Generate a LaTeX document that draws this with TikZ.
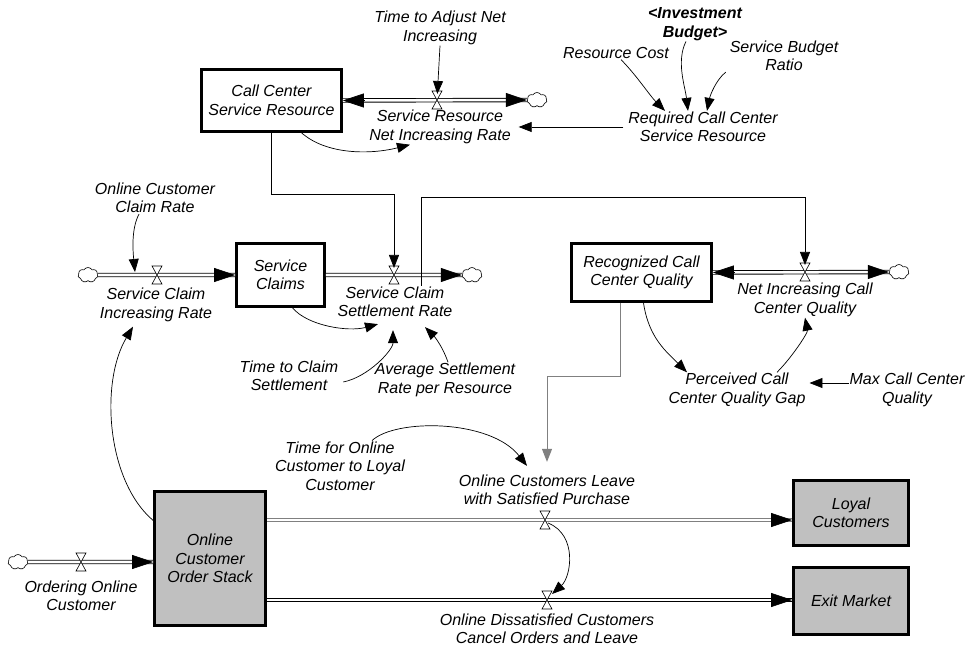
\documentclass[tikz,border=0pt]{standalone}
\usepackage{fontspec}
\setmainfont{Liberation Sans}
\usetikzlibrary{arrows.meta,shapes.symbols,calc}
\definecolor{stockgray}{HTML}{C0C0C0}
\begin{document}
\begin{tikzpicture}[x=1pt,y=-1pt,
 txt/.style={font=\fontsize{16}{18.5}\selectfont\itshape, align=center, inner sep=1pt, outer sep=0pt},
 stock/.style={txt, draw, line width=2.6pt, outer sep=1.3pt},
 gstock/.style={stock, fill=stockgray},
 pipe/.style={draw=black, line width=0.9pt, double=white, double distance=2.6pt},
 gpipe/.style={pipe, draw=black!50},
 pipehead/.style={line width=0.6pt, -{Triangle[length=21pt,width=14pt]}},
 con/.style={line width=0.7pt, -{Triangle[length=13pt,width=10pt]}},
 gcon/.style={line width=1pt, draw=black!50, -{Triangle[length=13pt,width=10pt,fill=black!50]}},
 cloudn/.style={cloud, cloud puffs=7, cloud puff arc=120, cloud ignores aspect, draw, line width=0.6pt, fill=white, minimum width=20pt, minimum height=15pt, inner sep=0pt},
 valve/.pic={\draw[fill=white, line width=0.6pt] (-5,-9) -- (5,-9) -- (-5,9) -- (5,9) -- cycle;}
]
\useasboundingbox (0,0) rectangle (975,647);

% stocks
\node[stock, minimum width=140pt, minimum height=62pt] (ccsr) at (271.5,100.5) {Call Center\\Service Resource};
\node[stock, minimum width=88pt, minimum height=63pt] (sc) at (280.5,275) {Service\\Claims};
\node[stock, minimum width=140pt, minimum height=58pt] (rccq) at (641.5,272.5) {Recognized Call\\Center Quality};
\node[gstock, minimum width=111pt, minimum height=134pt] (ocos) at (210,558.5) {Online\\Customer\\Order Stack};
\node[gstock, minimum width=115pt, minimum height=65pt] (lc) at (851,513) {Loyal\\Customers};
\node[gstock, minimum width=115pt, minimum height=67pt] (ex) at (851,601) {Exit Market};

% labels
\node[txt] (tadj) at (440,28) {Time to Adjust Net\\Increasing};
\node[txt] (srnir) at (440,127) {Service Resource\\Net Increasing Rate};
\node[txt, font=\fontsize{16}{18.5}\selectfont\itshape\bfseries] (inv) at (695,24) {<Investment\\Budget>};
\node[txt] (rc) at (616,53) {Resource Cost};
\node[txt] (sbr) at (784,56) {Service Budget\\Ratio};
\node[txt] (rccsr) at (703,127) {Required Call Center\\Service Resource};
\node[txt] (occr) at (155,198) {Online Customer\\Claim Rate};
\node[txt] (scir) at (156,305) {Service Claim\\Increasing Rate};
\node[txt] (scsr) at (395,302) {Service Claim\\Settlement Rate};
\node[txt] (tcs) at (289,376) {Time to Claim\\Settlement};
\node[txt] (asr) at (445,380) {Average Settlement\\Rate per Resource};
\node[txt] (nicq) at (805,300) {Net Increasing Call\\Center Quality};
\node[txt] (pccqg) at (737,390) {Perceived Call\\Center Quality Gap};
\node[txt] (mccq) at (907,390) {Max Call Center\\Quality};
\node[txt] (tfoc) at (340,466) {Time for Online\\Customer to Loyal\\Customer};
\node[txt] (ocl) at (547,490) {Online Customers Leave\\with Satisfied Purchase};
\node[txt] (odc) at (547,629) {Online Dissatisfied Customers\\Cancel Orders and Leave};
\node[txt] (ooc) at (81,596) {Ordering Online\\Customer};

% valves and clouds positions
\coordinate (v1) at (437,100);
\coordinate (v2) at (157,275);
\coordinate (v3) at (394,275);
\coordinate (v4) at (805,272);
\coordinate (v5) at (81,562);
\coordinate (v6) at (545,520);
\coordinate (v7) at (547,600);
\node[cloudn] (c1) at (537,100) {};
\node[cloudn] (c2) at (88,275) {};
\node[cloudn] (c3) at (472,275) {};
\node[cloudn] (c4) at (899,272) {};
\node[cloudn] (c5) at (18,562) {};

% pipes
\draw[pipe] (ccsr.east) -- (c1.west);
\draw[pipehead] ([xshift=21pt]ccsr.east) -- (ccsr.east);
\draw[pipehead] ([xshift=-21pt]c1.west) -- (c1.west);
\draw[pipe] (c2.east) -- (sc.west);
\draw[pipehead] ([xshift=-21pt]sc.west) -- (sc.west);
\draw[pipe] (sc.east) -- (c3.west);
\draw[pipehead] ([xshift=-21pt]c3.west) -- (c3.west);
\draw[pipe] (rccq.east) -- (c4.west);
\draw[pipehead] ([xshift=21pt]rccq.east) -- (rccq.east);
\draw[pipehead] ([xshift=-21pt]c4.west) -- (c4.west);
\draw[pipe] (c5.east) -- (ocos.west |- v5);
\draw[pipehead] ([xshift=-21pt]ocos.west |- v5) -- (ocos.west |- v5);
\draw[gpipe] (ocos.east |- v6) -- (lc.west |- v6);
\draw[pipehead] ([xshift=-21pt]lc.west |- v6) -- (lc.west |- v6);
\draw[pipe] (ocos.east |- v7) -- (ex.west |- v7);
\draw[pipehead] ([xshift=-21pt]ex.west |- v7) -- (ex.west |- v7);

% valves
\foreach \v in {v1,v2,v3,v4,v5,v6,v7} { \pic at (\v) {valve}; }

% connectors
\draw[con, shorten >=6pt] (tadj.south) -- (v1);
\draw[con] ([xshift=5pt]rc.south) .. controls +(15,15) and +(-15,-15) .. ([xshift=-38pt]rccsr.north);
\draw[con] ([xshift=-9pt]inv.south) .. controls +(-10,20) and +(-3,-25) .. ([xshift=-15pt]rccsr.north);
\draw[con] ([xshift=-3pt]sbr.south west) .. controls +(-10,8) and +(3,-15) .. ([xshift=4pt]rccsr.north);
\draw[con, shorten <=4pt, shorten >=7pt] (rccsr.west) -- (srnir.east);
\draw[con] ([xshift=30pt]ccsr.south) .. controls +(25,22) and +(-40,10) .. ([xshift=-30pt]srnir.south);
\draw[con, shorten >=7pt] (ccsr.south) -- ++(0,62) -| (v3);
\draw[con, shorten >=7pt] ([xshift=26pt]scsr.north) -- ++(0,-89) -| (v4);
\draw[con] ([xshift=-16pt]occr.south) .. controls +(-8,15) and +(-2,-20) .. ([xshift=-22pt,yshift=3pt]v2);
\draw[con] ([xshift=12pt]sc.south) .. controls +(15,18) and +(-30,8) .. ([xshift=-17pt,yshift=-6pt]scsr.south);
\draw[con] ([xshift=4pt,yshift=-6pt]tcs.east) .. controls +(25,-5) and +(0,20) .. ([xshift=-2pt,yshift=-12pt]scsr.south);
\draw[con] ([xshift=3pt]asr.north) .. controls +(-5,-15) and +(10,10) .. ([xshift=30pt,yshift=-9pt]scsr.south);
\draw[con] ([xshift=2pt]rccq.south) .. controls +(5,35) and +(-20,-20) .. ([xshift=-50pt]pccqg.north);
\draw[con] ([xshift=40pt]pccqg.north) .. controls +(15,-15) and +(3,15) .. (nicq.south);
\draw[con, shorten >=3pt] ([yshift=7pt]mccq.west) -- ([yshift=7pt]pccqg.east);
\draw[gcon, shorten >=12pt] ([xshift=-21pt]rccq.south) -- ++(0,74) -| (ocl.north);
\draw[con] ([xshift=32pt]tfoc.north) .. controls +(23,-22) and +(-37,-47) .. ([xshift=-20pt,yshift=8pt]ocl.north);
\draw[con] ([xshift=3pt,yshift=-3pt]v6) .. controls +(30,12) and +(19,-17) .. ([xshift=5pt,yshift=6pt]v7);
\draw[con] ([yshift=38pt]ocos.west) .. controls +(-47,-40) and +(-33,55) .. ([xshift=-23pt,yshift=-4pt]scir.south);
\end{tikzpicture}
\end{document}
